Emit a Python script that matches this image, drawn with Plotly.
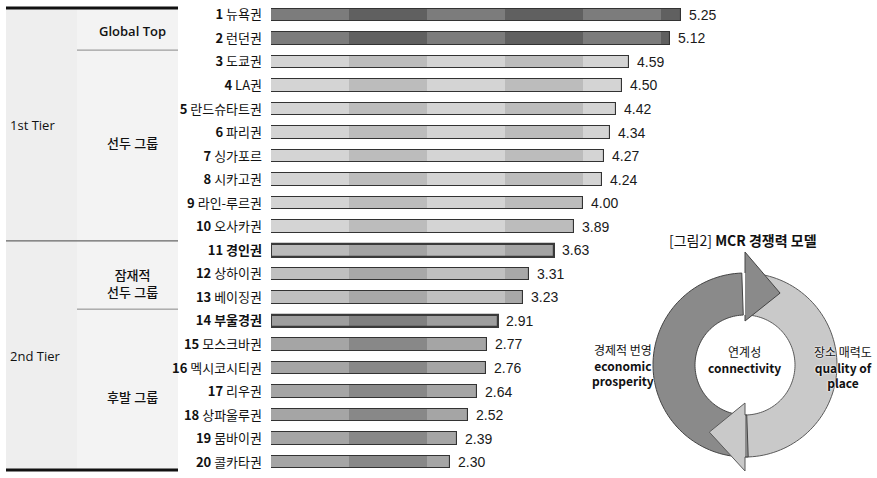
import math
import plotly.graph_objects as go

# ---- data -------------------------------------------------------------
ranks = list(range(1, 21))
regions = ["뉴욕권", "런던권", "도쿄권", "LA권", "란드슈타트권", "파리권", "싱가포르",
           "시카고권", "라인-루르권", "오사카권", "경인권", "상하이권", "베이징권",
           "부울경권", "모스크바권", "멕시코시티권", "리우권", "상파울루권", "뭄바이권", "콜카타권"]
scores = [5.25, 5.12, 4.59, 4.50, 4.42, 4.34, 4.27, 4.24, 4.00, 3.89,
          3.63, 3.31, 3.23, 2.91, 2.77, 2.76, 2.64, 2.52, 2.39, 2.30]
groups = ["global"] * 2 + ["leader"] * 8 + ["korea"] + ["potential"] * 2 + ["korea2"] + ["late"] * 6
highlight = [11, 14]

tier_labels = ["1st Tier", "2nd Tier"]
group_labels = ["Global Top", "선두 그룹", "잠재적<br>선두 그룹", "후발 그룹"]

# ---- styles -----------------------------------------------------------
shade = {  # (light block, dark block)
    "global": ("#7c7c7c", "#606060"),
    "leader": ("#d4d4d4", "#bcbcbc"),
    "korea": ("#bababa", "#a3a3a3"),
    "potential": ("#c0c0c0", "#a8a8a8"),
    "korea2": ("#9e9e9e", "#808080"),
    "late": ("#a5a5a5", "#888888"),
}

W, H = 877, 478
L, T, B = 271, 3, 4
PX_PER_UNIT = 78.0
x_max = (W - L) / PX_PER_UNIT
plot_h = H - T - B


def px(x):
    return (x - L) / (W - L)


def py(y):
    return (H - B - y) / plot_h


fig = go.Figure()

# alternating one-unit blocks inside each bar
n_blocks = int(math.ceil(max(scores)))
for k in range(n_blocks):
    widths = [min(max(v - k, 0), 1) for v in scores]
    colors = [shade[g][k % 2] for g in groups]
    fig.add_trace(go.Bar(
        y=ranks, x=widths, base=[k] * len(ranks), orientation="h",
        marker=dict(color=colors, line=dict(width=0)), width=0.53,
        hoverinfo="skip", showlegend=False))

# bar outlines
line_w = [2.2 if r in highlight else 1.1 for r in ranks]
line_c = ["#3a3a3a" if r in highlight else "#333333" for r in ranks]
fig.add_trace(go.Bar(
    y=ranks, x=scores, orientation="h",
    marker=dict(color="rgba(0,0,0,0)", line=dict(width=line_w, color=line_c)),
    width=0.53, showlegend=False, hoverinfo="skip"))

# value labels
for r, v in zip(ranks, scores):
    fig.add_annotation(x=v, y=r, xref="x", yref="y", text=f"{v:.2f}",
                       xanchor="left", yanchor="middle", xshift=6, showarrow=False,
                       font=dict(family="Liberation Sans Narrow, Arial Narrow, Liberation Sans, sans-serif",
                                 size=14, color="#1a1a1a"))

ticktext = []
for r, name in zip(ranks, regions):
    if r in highlight:
        ticktext.append(f"<b>{r} {name}</b>")
    else:
        ticktext.append(f"<b>{r}</b> {name}")

fig.update_layout(
    width=W, height=H,
    margin=dict(l=L, r=0, t=T, b=B),
    paper_bgcolor="white", plot_bgcolor="white",
    barmode="overlay", bargap=0,
    font=dict(family="Noto Sans CJK KR, sans-serif", color="#111"),
    xaxis=dict(range=[0, x_max], visible=False, fixedrange=True),
    yaxis=dict(range=[20.5, 0.5], tickmode="array", tickvals=ranks, ticktext=ticktext,
               showgrid=False, zeroline=False, showline=False, ticks="",
               ticklabelstandoff=8, tickfont=dict(size=13, color="#111")),
)

# ---- tier table on the left ------------------------------------------
shapes = []
tx0, tx1, tcol = 6, 178, 77
ttop, tbot = 8, 470
shapes.append(dict(type="rect", xref="paper", yref="paper", x0=px(tx0), x1=px(tcol),
                   y0=py(tbot), y1=py(ttop), fillcolor="#eeeeee", line=dict(width=0), layer="below"))
shapes.append(dict(type="rect", xref="paper", yref="paper", x0=px(tcol), x1=px(tx1),
                   y0=py(tbot), y1=py(ttop), fillcolor="#f3f3f3", line=dict(width=0), layer="below"))
for yy in (ttop, tbot):
    shapes.append(dict(type="line", xref="paper", yref="paper", x0=px(tx0), x1=px(tx1),
                       y0=py(yy), y1=py(yy), line=dict(color="#111", width=3)))
# tier separator and group separators (between ranks)
shapes.append(dict(type="line", xref="paper", yref="y", x0=px(tx0), x1=px(tx1),
                   y0=10.6, y1=10.6, line=dict(color="#666", width=1.3)))
for yb in (2.5, 13.5):
    shapes.append(dict(type="line", xref="paper", yref="y", x0=px(tcol), x1=px(tx1),
                       y0=yb, y1=yb, line=dict(color="#888", width=1)))

tier_y = [125, 356]
for lab, yy in zip(tier_labels, tier_y):
    fig.add_annotation(xref="paper", yref="paper", x=px(8), y=py(yy), text=lab,
                       xanchor="left", yanchor="middle", showarrow=False,
                       font=dict(family="Open Sans, sans-serif", size=13, color="#111"))
group_y = [31, 143, 283, 397]
for lab, yy in zip(group_labels, group_y):
    fig.add_annotation(xref="paper", yref="paper", x=px(132), y=py(yy), text=lab,
                       xanchor="center", yanchor="middle", showarrow=False,
                       font=dict(family="Open Sans, Noto Sans CJK KR, sans-serif", size=13,
                                 color="#111", weight=600 if lab == "Global Top" else 500))

# ---- MCR competitiveness model diagram --------------------------------
cx, cy = 745, 365
r_out, r_in = 92, 50


def pt(a_deg, r):
    a = math.radians(a_deg)
    return cx + r * math.cos(a), cy - r * math.sin(a)


def to_path(points, close=True):
    s = "M " + " L ".join(f"{px(x):.5f},{py(y):.5f}" for x, y in points)
    return s + (" Z" if close else "")


def sector(a0, a1, n=80):
    outer = [pt(a0 + (a1 - a0) * i / n, r_out) for i in range(n + 1)]
    inner = [pt(a1 - (a1 - a0) * i / n, r_in) for i in range(n + 1)]
    return outer + inner


def head(a_base, a_tip, r_tip, over_out, over_in):
    return [pt(a_base, r_in), pt(a_base, r_in - over_in), pt(a_tip, r_tip),
            pt(a_base, r_out + over_out), pt(a_base, r_out)]


dark_fill, dark_line = "#8a8a8a", "#444444"
light_fill, light_line = "#c9c9c9", "#5a5a5a"

shapes.append(dict(type="path", xref="paper", yref="paper", path=to_path(sector(88, -92)),
                   fillcolor=light_fill, line=dict(color=light_line, width=1)))
shapes.append(dict(type="path", xref="paper", yref="paper", path=to_path(sector(-88, -268)),
                   fillcolor=dark_fill, line=dict(color=dark_line, width=1)))
shapes.append(dict(type="path", xref="paper", yref="paper",
                   path=to_path(head(90, 64, 80, 21, 6), close=False),
                   fillcolor=dark_fill, line=dict(color=dark_line, width=1)))
shapes.append(dict(type="path", xref="paper", yref="paper",
                   path=to_path(head(-90, -118, 76, 14, 12), close=False),
                   fillcolor=light_fill, line=dict(color=light_line, width=1)))

fig.update_layout(shapes=shapes)

halo = "0 0 2px white, 0 0 2px white"
fig.add_annotation(xref="paper", yref="paper", x=px(743), y=py(240),
                   xanchor="center", yanchor="middle",
                   text="[그림2] <b>MCR 경쟁력 모델</b>", showarrow=False,
                   font=dict(family="Noto Sans CJK KR, sans-serif", size=14, color="#111"))
diagram_text = [
    (623, 365, "경제적 번영<br><b>economic<br>prosperity</b>"),
    (744, 359, "연계성<br><b>connectivity</b>"),
    (843, 367, "장소 매력도<br><b>quality of<br>place</b>"),
]
for x, y, t in diagram_text:
    fig.add_annotation(xref="paper", yref="paper", x=px(x), y=py(y), text=t,
                       xanchor="center", yanchor="middle",
                       showarrow=False, align="center",
                       font=dict(family="Noto Sans CJK KR, sans-serif", size=12,
                                 color="#111", shadow=halo))

fig.write_html("out.html")
